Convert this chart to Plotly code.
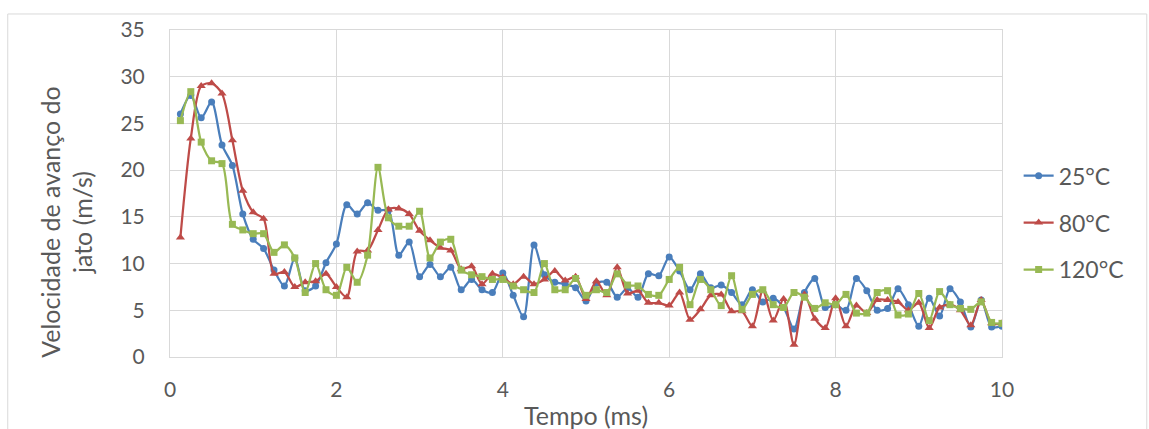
import plotly.graph_objects as go

tempo = [0.125, 0.25, 0.375, 0.5, 0.625, 0.75, 0.875, 1.0, 1.125, 1.25,
         1.375, 1.5, 1.625, 1.75, 1.875, 2.0, 2.125, 2.25, 2.375, 2.5,
         2.625, 2.75, 2.875, 3.0, 3.125, 3.25, 3.375, 3.5, 3.625, 3.75,
         3.875, 4.0, 4.125, 4.25, 4.375, 4.5, 4.625, 4.75, 4.875, 5.0,
         5.125, 5.25, 5.375, 5.5, 5.625, 5.75, 5.875, 6.0, 6.125, 6.25,
         6.375, 6.5, 6.625, 6.75, 6.875, 7.0, 7.125, 7.25, 7.375, 7.5,
         7.625, 7.75, 7.875, 8.0, 8.125, 8.25, 8.375, 8.5, 8.625, 8.75,
         8.875, 9.0, 9.125, 9.25, 9.375, 9.5, 9.625, 9.75, 9.875, 10.0]

v25 = [26.0, 28.0, 25.6, 27.3, 22.7, 20.5, 15.3, 12.6, 11.6, 9.3,
       7.6, 10.6, 7.1, 7.6, 10.1, 12.1, 16.3, 15.3, 16.5, 15.7,
       15.7, 10.9, 12.3, 8.6, 9.9, 8.6, 9.6, 7.2, 8.3, 7.2,
       6.9, 9.0, 6.6, 4.3, 12.0, 8.8, 8.0, 7.8, 7.4, 6.0,
       7.9, 8.0, 6.4, 7.4, 6.4, 8.9, 8.7, 10.7, 9.2, 7.2,
       8.9, 7.4, 7.7, 6.9, 5.6, 7.2, 5.9, 6.3, 5.3, 3.0,
       6.9, 8.4, 5.3, 5.6, 5.0, 8.4, 7.1, 5.0, 5.2, 7.3,
       5.6, 3.3, 6.3, 4.4, 7.3, 5.9, 3.2, 6.1, 3.2, 3.3]

v80 = [12.8, 23.4, 29.0, 29.3, 28.2, 23.2, 17.8, 15.5, 14.8, 8.9,
       9.1, 7.5, 8.0, 8.1, 8.9, 7.5, 6.4, 11.3, 11.4, 13.6,
       15.8, 15.9, 15.3, 13.5, 12.5, 11.7, 11.4, 9.4, 9.7, 7.8,
       8.9, 8.5, 7.8, 8.6, 7.8, 8.3, 9.2, 8.2, 8.6, 6.2,
       8.1, 6.6, 9.6, 6.8, 7.1, 5.8, 5.8, 5.5, 6.9, 4.0,
       5.1, 6.6, 6.7, 4.9, 4.9, 3.3, 7.1, 3.9, 6.2, 1.3,
       6.7, 4.1, 3.1, 6.3, 3.3, 5.5, 4.7, 6.1, 6.1, 5.9,
       5.0, 5.8, 3.1, 5.3, 5.6, 5.0, 3.4, 6.1, 3.6, 3.6]

v120 = [25.3, 28.4, 23.0, 21.0, 20.7, 14.2, 13.6, 13.2, 13.2, 11.2,
        12.0, 10.6, 6.9, 10.0, 7.2, 6.6, 9.6, 8.0, 10.9, 20.3,
        14.9, 14.0, 14.0, 15.6, 10.6, 12.3, 12.6, 9.3, 8.8, 8.6,
        8.3, 8.3, 7.6, 7.2, 6.9, 10.0, 7.2, 7.2, 8.4, 6.6,
        7.2, 6.9, 8.9, 7.7, 7.6, 6.7, 6.6, 8.3, 9.6, 5.6,
        8.3, 7.2, 5.5, 8.7, 5.1, 6.7, 7.2, 5.6, 5.3, 6.9,
        6.4, 5.2, 5.8, 5.6, 6.7, 4.7, 4.7, 6.9, 7.1, 4.5,
        4.6, 6.8, 3.9, 7.0, 5.6, 5.2, 5.1, 5.9, 3.7, 3.6]

series_names = ["25°C", "80°C", "120°C"]
series_values = [v25, v80, v120]
colors = ["#4A7EBB", "#BE4B48", "#98B954"]
symbols = ["circle", "triangle-up", "square"]
msizes = [7, 8, 7]

FONT = "Lato, 'Open Sans', sans-serif"
TXT = "#595959"
GRID = "#D9D9D9"

fig = go.Figure()
for name, vals, c, s, ms in zip(series_names, series_values, colors, symbols, msizes):
    fig.add_trace(go.Scatter(
        x=tempo, y=vals, name=name, legendgroup=name,
        mode="lines+markers",
        line=dict(color=c, width=2.25, shape="spline", smoothing=0.8),
        marker=dict(color=c, symbol=s, size=ms),
    ))

fig.update_layout(
    width=1149, height=429,
    margin=dict(l=170, r=147, t=30, b=72),
    paper_bgcolor="white", plot_bgcolor="white",
    font=dict(family=FONT, color=TXT, size=21),
    showlegend=True,
    legend=dict(
        x=1.02, y=0.62, xanchor="left", yanchor="top",
        font=dict(size=23, color=TXT, family=FONT),
        tracegroupgap=14, traceorder="grouped",
        bgcolor="rgba(0,0,0,0)",
    ),
    xaxis=dict(
        range=[0, 10], dtick=2, tick0=0,
        showgrid=True, gridcolor=GRID, gridwidth=1,
        zeroline=False, showline=True, linecolor=GRID, linewidth=1, mirror=True,
        ticks="", tickfont=dict(size=21, color=TXT), ticklabelstandoff=14,
    ),
    yaxis=dict(
        range=[0, 35], dtick=5, tick0=0,
        showgrid=True, gridcolor=GRID, gridwidth=1,
        zeroline=False, showline=True, linecolor=GRID, linewidth=1, mirror=True,
        ticks="", tickfont=dict(size=21, color=TXT), ticklabelstandoff=20,
    ),
    annotations=[
        dict(text="Velocidade de avanço do<br>jato (m/s)", textangle=-90,
             xref="paper", yref="paper", x=-0.124, y=0.413,
             xanchor="center", yanchor="middle", showarrow=False,
             font=dict(size=25, color=TXT, family=FONT)),
        dict(text="Tempo (ms)", xref="paper", yref="paper", x=0.5, y=-0.177,
             xanchor="center", yanchor="middle", showarrow=False,
             font=dict(size=25, color=TXT, family=FONT)),
    ],
    shapes=[
        dict(type="rect", xref="paper", yref="paper",
             x0=-0.195, x1=1.174, y0=-0.3, y1=1.049,
             line=dict(color="#D9D9D9", width=1), layer="below"),
    ],
)

fig.write_html("out.html")
